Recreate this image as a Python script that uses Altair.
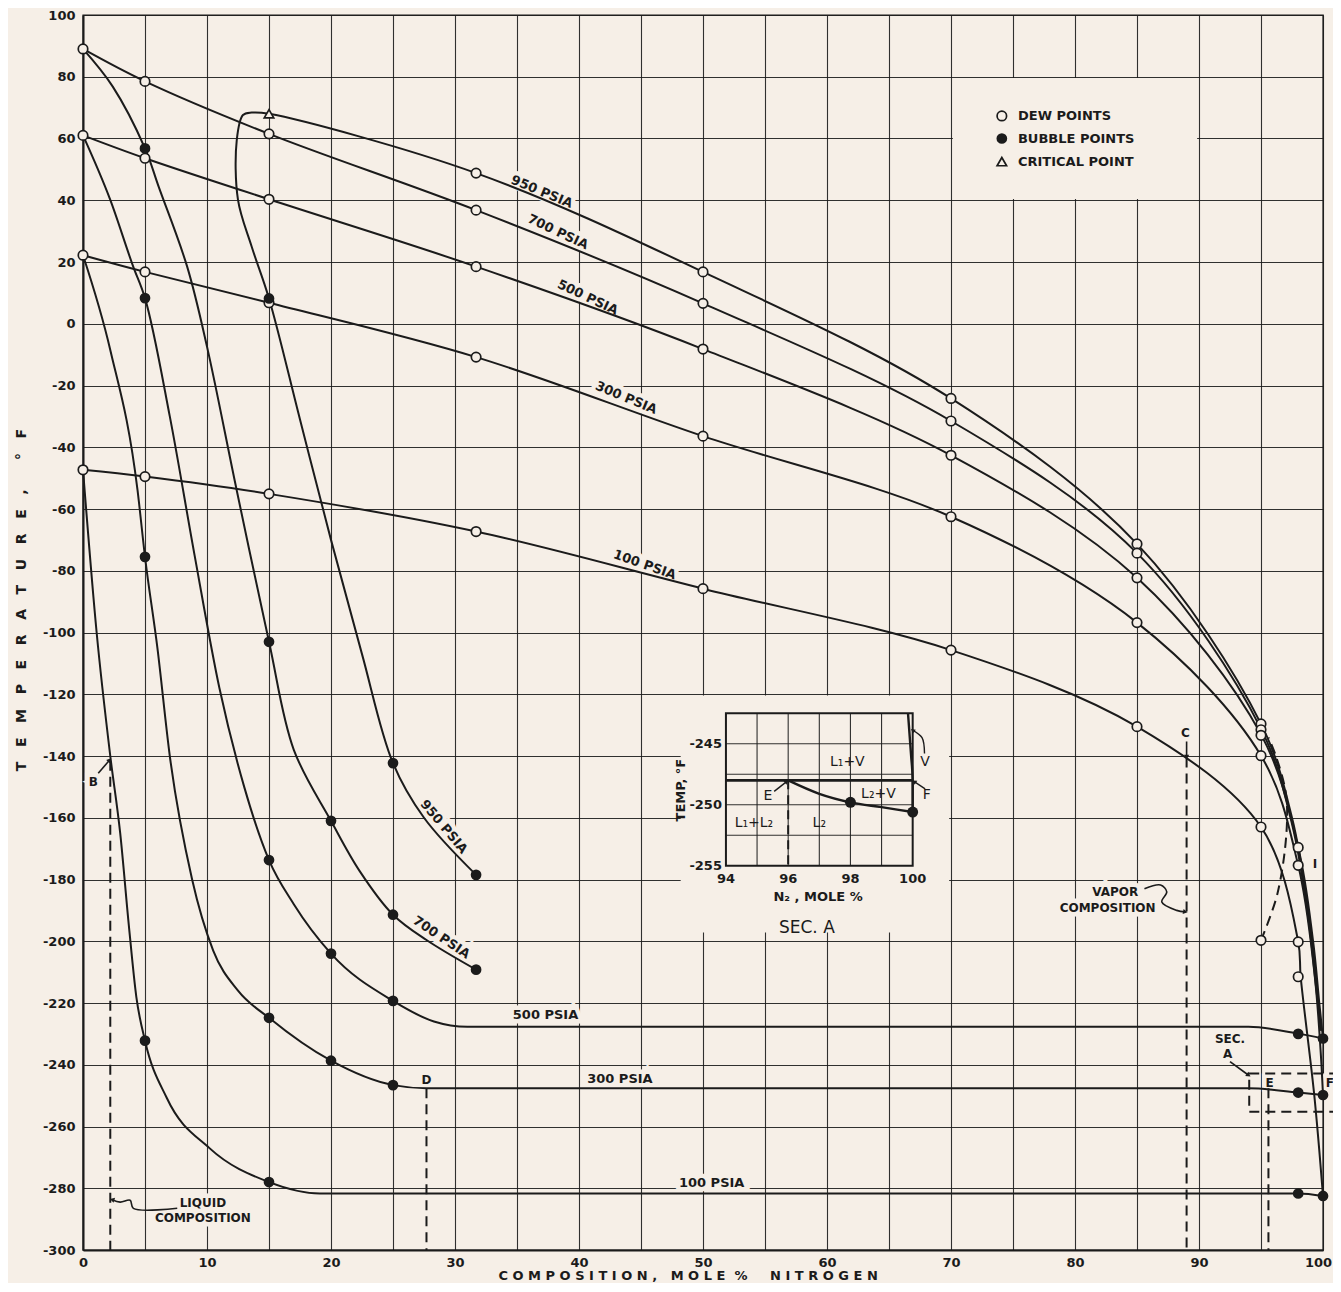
import math
import altair as alt
import pandas as pd

BG = "#f6efe7"
INK = "#1b1b1b"
FONT = "DejaVu Sans"
W, H = 1240, 1235
NB = "\u00a0"

# ---------------- axes ----------------
x_grid_values = list(range(0, 101, 5))
t_tick_values = list(range(-300, 101, 20))

# ---------------- solid curves (x = mole % N2, t = deg F) ----------------
# 950 psia envelope: bubble branch (bottom) -> critical point -> dew branch
p950_x = [31.7, 27.5, 25.0, 22.5, 20.0, 17.5, 15.0, 13.6, 12.5, 12.4, 12.9, 13.6, 15.0, 31.7, 50.0, 70.0, 85.0, 95.0, 97.5, 98.8, 99.5, 99.8]
p950_t = [-178.5, -160.0, -142.3, -107.0, -70.0, -31.0, 8.2, 25.0, 40.1, 59.5, 67.6, 68.4, 68.0, 48.8, 16.8, -24.2, -71.3, -129.6, -160.0, -190.0, -215.0, -228.0]

b700_x = [0.0, 2.4, 5.0, 6.1, 8.4, 10.0, 12.4, 15.0, 17.0, 20.0, 22.3, 25.0, 27.7, 31.7]
b700_t = [89.0, 76.8, 56.8, 44.4, 18.5, -7.4, -54.0, -103.0, -138.0, -161.0, -177.2, -191.4, -199.6, -209.2]
d700_x = [0.0, 5.0, 15.0, 31.7, 50.0, 70.0, 85.0, 95.0, 97.5, 98.8, 99.5, 99.85]
d700_t = [89.0, 78.5, 61.5, 36.8, 6.6, -31.5, -74.3, -131.2, -162.0, -192.0, -217.0, -229.0]

b500_x = [0.0, 2.2, 4.05, 5.0, 7.0, 9.0, 11.0, 13.0, 15.0, 17.0, 20.0, 25.0, 28.3, 31.0, 60.0, 94.0, 98.1, 100.0]
b500_t = [61.0, 40.1, 18.5, 8.3, -30.0, -75.0, -118.0, -150.0, -173.7, -188.0, -204.0, -219.3, -226.0, -227.7, -227.7, -227.7, -230.0, -231.5]
d500_x = [0.0, 5.0, 15.0, 31.7, 50.0, 70.0, 85.0, 95.0, 98.0, 99.2, 99.7, 100.0]
d500_t = [61.0, 53.6, 40.3, 18.5, -8.2, -42.6, -82.3, -133.0, -169.6, -200.0, -220.0, -231.5]

b300_x = [0.0, 2.2, 4.4, 5.0, 6.0, 7.0, 8.8, 10.5, 12.5, 15.0, 20.0, 25.0, 27.7, 60.0, 94.0, 98.0, 100.0]
b300_t = [22.2, -8.5, -54.0, -75.5, -105.0, -140.0, -180.0, -203.0, -216.0, -224.8, -238.7, -246.6, -247.6, -247.6, -247.6, -249.0, -249.8]
d300_x = [0.0, 5.0, 15.0, 31.7, 50.0, 70.0, 85.0, 95.0, 98.0, 99.3, 99.8, 100.0]
d300_t = [22.2, 16.8, 6.8, -10.8, -36.4, -62.5, -96.8, -139.9, -175.4, -210.0, -235.0, -249.8]

b100_x = [0.0, 1.1, 2.2, 3.0, 3.7, 4.3, 5.0, 6.75, 10.2, 15.0, 19.1, 60.0, 98.0, 100.0]
b100_t = [-47.3, -100.0, -140.0, -165.0, -195.0, -218.0, -232.2, -250.7, -267.0, -278.0, -281.7, -281.7, -281.7, -282.5]
d100_x = [0.0, 5.0, 15.0, 31.7, 50.0, 70.0, 85.0, 95.0, 98.0, 98.2, 99.3, 100.0]
d100_t = [-47.3, -49.5, -55.1, -67.3, -85.8, -105.7, -130.5, -163.0, -200.2, -211.5, -250.0, -282.5]

# dashed curve through the 100 psia dew point at 95 %
dd100_x = [95.0, 96.3, 97.05, 97.0, 96.2, 95.6]
dd100_t = [-199.7, -185.0, -165.0, -152.0, -140.0, -134.0]

# ---------------- markers ----------------
dew_x = [0, 0, 0, 0, 5, 5, 5, 5, 15, 15, 15, 15, 31.7, 31.7, 31.7, 31.7, 31.7,
         50, 50, 50, 50, 50, 70, 70, 70, 70, 70, 85, 85, 85, 85, 85,
         95, 95, 95, 95, 95, 95, 98, 98, 98, 98]
dew_t = [89.0, 61.0, 22.2, -47.3, 78.5, 53.6, 16.8, -49.5, 61.5, 40.3, 6.8, -55.1,
         48.8, 36.8, 18.5, -10.8, -67.3, 16.8, 6.6, -8.2, -36.4, -85.8,
         -24.2, -31.5, -42.6, -62.5, -105.7, -71.3, -74.3, -82.3, -96.8, -130.5,
         -129.6, -131.5, -133.3, -139.9, -163.0, -199.7, -169.6, -175.4, -200.2, -211.5]
bub_x = [5, 5, 5, 5, 15, 15, 15, 15, 15, 20, 20, 20, 25, 25, 25, 25, 31.7, 31.7,
         98, 100, 98, 100, 98, 100]
bub_t = [56.8, 8.3, -75.5, -232.2, 8.2, -103.0, -173.7, -224.8, -278.0, -161.0, -204.0, -238.7,
         -142.3, -191.4, -219.3, -246.6, -178.5, -209.2,
         -230.0, -231.5, -249.0, -249.8, -281.7, -282.5]
crit_x = [15.0]
crit_t = [68.0]

# ---------------- dashed tie-lines ----------------
tie_names = ["B", "C", "D", "E"]
tie_x = [2.2, 89.0, 27.7, 95.6]
tie_top = [-141.5, -140.5, -247.6, -247.6]

# ---------------- curve labels ----------------
lab_dew = ["950 PSIA", "700 PSIA", "500 PSIA", "300 PSIA", "100 PSIA"]
lab_dew_x = [37.0, 38.3, 40.7, 43.8, 45.3]
lab_dew_t = [42.7, 29.7, 8.5, -24.0, -78.1]
lab_dew_angle = [22.7, 25.3, 25.3, 22.7, 19.3]
lab_bub = ["950 PSIA", "700 PSIA"]
lab_bub_x = [29.1, 28.9]
lab_bub_t = [-162.9, -198.8]
lab_bub_angle = [50.0, 34.0]
lab_flat = ["500 PSIA", "300 PSIA", "100 PSIA"]
lab_flat_x = [37.3, 43.3, 50.7]
lab_flat_t = [-224.0, -244.5, -278.3]

# ---------------- annotations ----------------
ann_text = ["B", "C", "D", "E", "F", "I", "SEC.", "A"]
ann_x = [0.83, 88.9, 27.7, 95.7, 100.56, 99.35, 92.5, 92.3]
ann_t = [-148.3, -132.7, -245.0, -245.8, -245.8, -175.0, -231.6, -236.5]
liq_text = ["LIQUID", "COMPOSITION"]
liq_x = [7.8, 5.8]
liq_t = [-284.7, -289.6]
vap_text = ["VAPOR", "COMPOSITION"]
vap_x = [85.1, 86.5]
vap_t = [-184.0, -189.2]

arrows = {
    "B": ([1.23, 2.15], [-145.6, -141.3]),
    "C": ([89.0, 89.0], [-135.3, -140.3]),
    "SEC": ([92.5, 94.0], [-239.0, -243.4]),
    "LIQ": ([7.6, 4.06, 3.8, 3.0, 2.35], [-286.5, -286.5, -283.9, -284.5, -283.7]),
    "VAP": ([85.6, 86.9, 87.4, 87.0, 88.2, 88.9], [-183.0, -181.8, -184.0, -187.3, -190.0, -190.5]),
}

sec_box_x = [94.05, 101.3]
sec_box_t = [-242.8, -255.2]

legend_text = ["DEW POINTS", "BUBBLE POINTS", "CRITICAL POINT"]
legend_x = 75.4
legend_t = [67.3, 60.0, 52.5]
legend_mark_x = 74.1

# ---------------- inset (Sec. A), in its own units ----------------
in_x_ticks = [94, 96, 98, 100]
in_t_ticks = [-245, -250, -255]
in_grid_x = [95, 96, 97, 98, 99]
in_grid_t = [-252.5, -250.0, -247.5, -245.0]
in_curve_x = [96.0, 97.0, 98.0, 99.0, 100.0]
in_curve_t = [-248.0, -249.1, -249.8, -250.2, -250.6]
in_three_t = -248.0
in_vap_x = [99.85, 99.95, 100.0, 100.0]
in_vap_t = [-242.5, -246.0, -248.0, -250.6]
in_bub_x = [98.0, 100.0]
in_bub_t = [-249.8, -250.6]
in_text = ["L\u2081+V", "L\u2082+V", "L\u2081+L\u2082", "L\u2082", "E", "F", "V"]
in_text_x = [97.9, 98.9, 94.9, 97.0, 95.35, 100.45, 100.4]
in_text_t = [-246.5, -249.1, -251.5, -251.5, -249.3, -249.2, -246.5]
in_arrows = {
    "ea": ([95.55, 95.95], [-248.9, -248.1]),
    "fa": ([100.4, 100.05], [-248.7, -248.1]),
    "va": ([100.38, 100.3, 100.0], [-245.8, -244.5, -243.9]),
}

# placement of the inset frame inside the main axes (layout, main-axis units)
IN_X0, IN_X1 = 51.85, 66.91      # where inset x = 94 and x = 100 fall
IN_T0, IN_T1 = -175.53, -126.17  # where inset t = -255 and t = -242.5 fall

# =====================================================================
X = alt.Scale(domain=[0, 100], nice=False, zero=False)
Y = alt.Scale(domain=[-300, 100], nice=False, zero=False)
KX = (IN_X1 - IN_X0) / 6.0
KT = (IN_T1 - IN_T0) / 12.5
PX_X = W / 100.0
PX_T = H / 400.0

label_font = dict(labelFont=FONT, labelFontSize=13, labelFontWeight="bold", labelColor=INK, labelFlush=False)
AX_X = alt.Axis(values=x_grid_values, title=None, grid=True, gridColor=INK, gridWidth=1.1, gridOpacity=0.9,
                ticks=False, domain=True, domainColor=INK, domainWidth=2, labelPadding=6,
                labelOffset={"condition": {"test": "datum.value == 100", "value": -5}, "value": 0},
                labelExpr="datum.value % 10 == 0 ? datum.value + '' : ''", **label_font)
AX_Y = alt.Axis(values=t_tick_values, title=None, grid=True, gridColor=INK, gridWidth=1.1, gridOpacity=0.9,
                ticks=False, domain=True, domainColor=INK, domainWidth=2, labelPadding=8,
                labelExpr="datum.value + ''", **label_font)


def enc(xf="x", tf="t", **kw):
    return dict(x=alt.X(f"{xf}:Q", scale=X, axis=AX_X), y=alt.Y(f"{tf}:Q", scale=Y, axis=AX_Y), **kw)


def to_inset(chart, fields=(("x", "t"),)):
    calc = {}
    for fx, ft in fields:
        calc[fx + "m"] = f"{IN_X0} + (datum.{fx} - 94) * {KX}"
        calc[ft + "m"] = f"{IN_T0} + (datum.{ft} + 255) * {KT}"
    return chart.transform_calculate(**calc)


def lines_df(d):
    rows = []
    for name, (xv, tv) in d.items():
        for i, (a, b) in enumerate(zip(xv, tv)):
            rows.append({"curve": name, "i": i, "x": a, "t": b})
    return pd.DataFrame(rows)


def heads_df(d, sx=PX_X, st=PX_T):
    rows = []
    for name, (xv, tv) in d.items():
        dx = (xv[-1] - xv[-2]) * sx
        dy = -(tv[-1] - tv[-2]) * st
        ang = math.degrees(math.atan2(dx, -dy)) % 360
        rows.append({"x": xv[-1], "t": tv[-1], "ang": ang})
    return pd.DataFrame(rows)


def text_layer(labels, xv, tv, size=13, angle=0, align="center", baseline="middle",
               weight="bold", angles=None, inset=False, dx=0, dy=0, halo=False):
    df = pd.DataFrame({"label": labels, "x": xv, "t": tv})
    mk = dict(fontSize=size, align=align, baseline=baseline, font=FONT, fontWeight=weight, dx=dx, dy=dy)
    if halo:
        mk.update(color=BG, stroke=BG, strokeWidth=9)
    else:
        mk.update(color=INK)
    e = enc("xm", "tm") if inset else enc()
    if angles is not None:
        df["ang"] = angles
        ch = alt.Chart(df).mark_text(**mk).encode(text="label:N", angle=alt.Angle("ang:Q", scale=None), **e)
    else:
        ch = alt.Chart(df).mark_text(angle=angle, **mk).encode(text="label:N", **e)
    return to_inset(ch) if inset else ch


axes_layer = alt.Chart(pd.DataFrame({"x": [0, 100], "t": [-300, 100]})).mark_point(opacity=0).encode(**enc())

# blank patches (legend box, inset area) hiding the grid
blank_df = pd.DataFrame({"x": [70.15, 48.2], "x2": [89.85, 69.85], "t": [79.6, -120.4], "t2": [40.4, -197.2]})
blank = alt.Chart(blank_df).mark_rect(color=BG).encode(x2="x2:Q", y2="t2:Q", **enc())

halos = [
    text_layer(lab_dew, lab_dew_x, lab_dew_t, size=13, angles=lab_dew_angle, halo=True),
    text_layer(lab_bub, lab_bub_x, lab_bub_t, size=13, angles=lab_bub_angle, halo=True),
    text_layer(lab_flat, lab_flat_x, lab_flat_t, size=13, halo=True),
    text_layer(liq_text, liq_x, liq_t, size=12, align="left", halo=True),
    text_layer(vap_text, vap_x, vap_t, size=12, align="right", halo=True),
    text_layer(ann_text, ann_x, ann_t, size=12, halo=True),
]

smooth = alt.Chart(lines_df({
    "p950": (p950_x, p950_t), "b700": (b700_x, b700_t), "d700": (d700_x, d700_t),
    "d500": (d500_x, d500_t), "d300": (d300_x, d300_t), "d100": (d100_x, d100_t),
})).mark_line(interpolate="catmull-rom", strokeWidth=2, color=INK).encode(
    detail="curve:N", order="i:Q", **enc())
flat = alt.Chart(lines_df({
    "b500": (b500_x, b500_t), "b300": (b300_x, b300_t), "b100": (b100_x, b100_t),
})).mark_line(interpolate="monotone", strokeWidth=2, color=INK).encode(
    detail="curve:N", order="i:Q", **enc())

dash_curves = {"dd100": (dd100_x, dd100_t)}
for n, xv, tt in zip(tie_names, tie_x, tie_top):
    dash_curves["tie" + n] = ([xv, xv], [tt, -300])
dashed = alt.Chart(lines_df(dash_curves)).mark_line(
    interpolate="catmull-rom", strokeWidth=2, color=INK, strokeDash=[10, 6]).encode(
    detail="curve:N", order="i:Q", **enc())

box = alt.Chart(pd.DataFrame({"x": [sec_box_x[0]], "x2": [sec_box_x[1]], "t": [sec_box_t[0]], "t2": [sec_box_t[1]]})).mark_rect(
    fillOpacity=0, stroke=INK, strokeWidth=2, strokeDash=[10, 6]).encode(x2="x2:Q", y2="t2:Q", **enc())

arrow_lines = alt.Chart(lines_df(arrows)).mark_line(interpolate="catmull-rom", strokeWidth=1.6, color=INK).encode(
    detail="curve:N", order="i:Q", **enc())
arrow_heads = alt.Chart(heads_df(arrows)).mark_point(shape="triangle-up", filled=True, color=INK, size=28, opacity=1).encode(
    angle=alt.Angle("ang:Q", scale=None), **enc())

dew_pts = alt.Chart(pd.DataFrame({"x": dew_x + [legend_mark_x], "t": dew_t + [legend_t[0]]})).mark_point(
    shape="circle", filled=True, fill=BG, stroke=INK, strokeWidth=1.7, size=90, opacity=1).encode(**enc())
bub_pts = alt.Chart(pd.DataFrame({"x": bub_x + [legend_mark_x], "t": bub_t + [legend_t[1]]})).mark_point(
    shape="circle", filled=True, color=INK, size=115, opacity=1).encode(**enc())
crit_pts = alt.Chart(pd.DataFrame({"x": crit_x + [legend_mark_x], "t": crit_t + [legend_t[2]]})).mark_point(
    shape="triangle-up", filled=True, fill=BG, stroke=INK, strokeWidth=1.7, size=90, opacity=1).encode(**enc())

# ---------------- inset layers ----------------
inset_frame = to_inset(alt.Chart(pd.DataFrame({"x": [94], "x2": [100], "t": [-255], "t2": [-242.5]})).mark_rect(
    fill=BG, stroke=INK, strokeWidth=2).encode(x2="x2m:Q", y2="t2m:Q", **enc("xm", "tm")),
    fields=(("x", "t"), ("x2", "t2")))

in_grid = {}
for g in in_grid_x:
    in_grid["gx%s" % g] = ([g, g], [-255, -242.5])
for g in in_grid_t:
    in_grid["gt%s" % g] = ([94, 100], [g, g])
inset_grid = to_inset(alt.Chart(lines_df(in_grid)).mark_line(strokeWidth=1.1, color=INK, opacity=0.9).encode(
    detail="curve:N", order="i:Q", **enc("xm", "tm")))
inset_three = to_inset(alt.Chart(lines_df({"three": ([94, 100], [in_three_t, in_three_t])})).mark_line(
    strokeWidth=2.6, color=INK).encode(detail="curve:N", order="i:Q", **enc("xm", "tm")))
inset_curves = to_inset(alt.Chart(lines_df({"liq": (in_curve_x, in_curve_t), "vap": (in_vap_x, in_vap_t)})).mark_line(
    strokeWidth=2.4, color=INK, interpolate="monotone").encode(detail="curve:N", order="i:Q", **enc("xm", "tm")))
inset_dash = to_inset(alt.Chart(lines_df({"e": ([96, 96], [-248, -255])})).mark_line(
    strokeWidth=2, color=INK, strokeDash=[9, 6]).encode(detail="curve:N", order="i:Q", **enc("xm", "tm")))
inset_arrows = to_inset(alt.Chart(lines_df(in_arrows)).mark_line(strokeWidth=1.4, color=INK, interpolate="catmull-rom").encode(
    detail="curve:N", order="i:Q", **enc("xm", "tm")))
inset_heads = to_inset(alt.Chart(heads_df(in_arrows, KX * PX_X, KT * PX_T)).mark_point(
    shape="triangle-up", filled=True, color=INK, size=24, opacity=1).encode(
    angle=alt.Angle("ang:Q", scale=None), **enc("xm", "tm")))
inset_bub = to_inset(alt.Chart(pd.DataFrame({"x": in_bub_x, "t": in_bub_t})).mark_point(
    shape="circle", filled=True, color=INK, size=120, opacity=1).encode(**enc("xm", "tm")))

ytitle = (NB * 3).join("TEMPERATURE,") + NB * 6 + "\u00b0" + NB * 3 + "F"
xtitle = NB.join("COMPOSITION,") + NB * 3 + NB.join("MOLE") + NB * 2 + "%" + NB * 5 + NB.join("NITROGEN")

layers = [axes_layer, blank] + halos + [
    smooth, flat, dashed, box, arrow_lines, arrow_heads, dew_pts, bub_pts, crit_pts,
    text_layer(lab_dew, lab_dew_x, lab_dew_t, size=13, angles=lab_dew_angle),
    text_layer(lab_bub, lab_bub_x, lab_bub_t, size=13, angles=lab_bub_angle),
    text_layer(lab_flat, lab_flat_x, lab_flat_t, size=13),
    text_layer(ann_text, ann_x, ann_t, size=12),
    text_layer(liq_text, liq_x, liq_t, size=12, align="left"),
    text_layer(vap_text, vap_x, vap_t, size=12, align="right"),
    text_layer(legend_text, [legend_x] * 3, legend_t, size=13, align="left"),
    text_layer([ytitle], [-4.9], [-89.5], size=14, angle=270),
    text_layer([xtitle], [48.8], [-308.4], size=13),
    inset_frame, inset_grid, inset_three, inset_curves, inset_dash, inset_arrows, inset_heads, inset_bub,
    text_layer(in_text, in_text_x, in_text_t, size=14, weight="normal", inset=True),
    text_layer([str(v) for v in in_x_ticks], in_x_ticks, [-255] * len(in_x_ticks), size=13, inset=True,
               baseline="top", dy=7),
    text_layer([str(v) for v in in_t_ticks], [94] * len(in_t_ticks), in_t_ticks, size=13, inset=True,
               align="right", dx=-4),
    text_layer(["TEMP, \u00b0F"], [92.55], [-248.8], size=13, angle=270, inset=True),
    text_layer(["N\u2082 , MOLE %"], [96.96], [-257.6], size=13, inset=True),
    text_layer(["SEC. A"], [96.6], [-260.1], size=17, weight="normal", inset=True),
]

chart = alt.layer(*layers).properties(
    width=W, height=H, autosize=alt.AutoSizeParams(type="none"),
    padding={"left": 75, "top": 7, "right": 10, "bottom": 33},
).configure(background=BG).configure_view(stroke=INK, strokeWidth=1.4)

chart.save("out.html", embed_options={"renderer": "svg", "actions": False})
